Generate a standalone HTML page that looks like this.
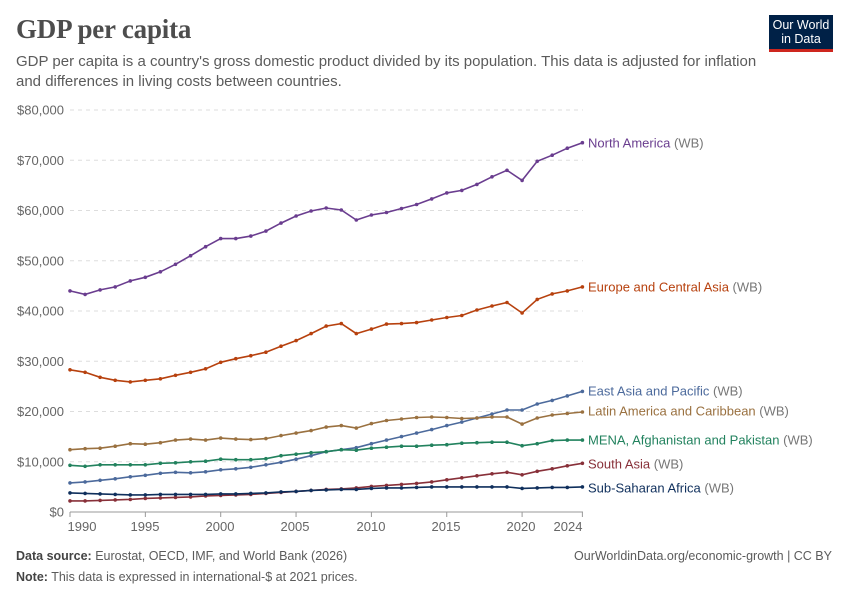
<!DOCTYPE html>
<html><head><meta charset="utf-8"><style>
body{margin:0;width:850px;height:600px;background:#fff;font-family:"Liberation Sans",sans-serif;overflow:hidden;position:relative}
h1{position:absolute;left:16px;top:14px;margin:0;font-family:"Liberation Serif",serif;font-size:27px;font-weight:normal;color:#4d4d4d;letter-spacing:-0.2px}
.sub{position:absolute;left:16px;top:52px;width:760px;font-size:15px;line-height:20px;color:#5b5b5b}
.logo{position:absolute;left:769px;top:15px;width:64px;height:37px;background:#002147;border-bottom:3px solid #ce261e;color:#fff;font-size:12.5px;line-height:14px;text-align:center;padding-top:3px;box-sizing:border-box}
.foot{position:absolute;font-size:12.5px;color:#5b5b5b}
.foot b{color:#444}
</style></head><body>
<h1><b style="font-weight:bold">GDP per capita</b></h1>
<div class="sub">GDP per capita is a country's gross domestic product divided by its population. This data is adjusted for inflation and differences in living costs between countries.</div>
<div class="logo">Our World<br>in Data</div>
<svg id="c" width="850" height="600" style="position:absolute;left:0;top:0"></svg>
<div class="foot" style="left:16px;top:549px"><b>Data source:</b> Eurostat, OECD, IMF, and World Bank (2026)</div>
<div class="foot" style="right:18px;top:549px">OurWorldinData.org/economic-growth | CC BY</div>
<div class="foot" style="left:16px;top:570px"><b>Note:</b> This data is expressed in international-$ at 2021 prices.</div>
<script>
const S=[
["#6a3d8f","North America",143,[44000,43300,44200,44800,46000,46700,47800,49300,51000,52800,54400,54400,54900,55900,57500,58900,59900,60500,60100,58100,59100,59600,60400,61200,62300,63500,64000,65200,66700,68000,66000,69800,71000,72400,73500]],
["#b7410e","Europe and Central Asia",287,[28300,27800,26800,26200,25900,26200,26500,27200,27800,28500,29800,30500,31100,31800,33000,34100,35500,37000,37500,35500,36400,37400,37500,37700,38200,38700,39100,40200,41000,41700,39600,42300,43400,44000,44800]],
["#4c6a9c","East Asia and Pacific",391,[5800,6000,6300,6600,7000,7300,7700,7900,7800,8000,8400,8600,8900,9400,9900,10500,11200,12000,12400,12800,13600,14300,15000,15700,16400,17200,17900,18700,19500,20300,20300,21500,22200,23100,24000]],
["#9a7140","Latin America and Caribbean",411,[12400,12600,12700,13100,13600,13500,13800,14300,14500,14300,14700,14500,14400,14600,15200,15700,16200,16900,17200,16700,17600,18200,18500,18800,18900,18800,18600,18700,18900,18900,17500,18700,19300,19600,19900]],
["#22825e","MENA, Afghanistan and Pakistan",440,[9300,9100,9400,9400,9400,9400,9700,9800,10000,10100,10500,10400,10400,10600,11200,11500,11800,12000,12400,12300,12700,12900,13100,13100,13300,13400,13700,13800,13900,13900,13200,13600,14200,14300,14300]],
["#883039","South Asia",464,[2200,2200,2300,2400,2500,2700,2800,2900,3000,3200,3300,3400,3500,3700,3900,4100,4300,4500,4600,4800,5100,5300,5500,5700,6000,6400,6800,7200,7600,7900,7400,8100,8600,9200,9700]],
["#0f2f5c","Sub-Saharan Africa",488,[3800,3700,3600,3500,3400,3400,3500,3500,3500,3500,3600,3600,3700,3800,4000,4100,4300,4400,4500,4500,4700,4800,4800,4900,5000,5000,5000,5000,5000,5000,4700,4800,4900,4900,5000]]];
const X=y=>70+(y-1990)*15.07, Y=v=>512-v*0.005025;
let h='';
for(let i=0;i<=8;i++){const y=Y(i*10000);
 if(i>0)h+=`<line x1="70" x2="583" y1="${y}" y2="${y}" stroke="#ddd" stroke-dasharray="4,4"/>`;
 h+=`<text x="64" y="${y+4.5}" text-anchor="end" font-size="13" fill="#666">${i?'$'+i*10+',000':'$0'}</text>`;}
h+=`<line x1="70" x2="583" y1="512" y2="512" stroke="#999"/>`;
[[1990,82],[1995,145],[2000,220],[2005,295],[2010,371],[2015,446],[2020,521],[2024,568]].forEach(([t,x])=>{
 h+=`<line x1="${X(t)}" x2="${X(t)}" y1="512" y2="517" stroke="#999"/><text x="${x}" y="531" text-anchor="middle" font-size="13" fill="#666">${t}</text>`;});
for(const [c,n,ly,d] of S){
 const p=d.map((v,i)=>X(1990+i).toFixed(1)+','+Y(v).toFixed(1));
 h+=`<polyline points="${p.join(' ')}" fill="none" stroke="${c}" stroke-width="1.6"/>`;
 p.forEach(q=>{const [a,b]=q.split(',');h+=`<circle cx="${a}" cy="${b}" r="1.8" fill="${c}"/>`;});
 h+=`<text x="588" y="${ly+4.5}" font-size="13" fill="${c}">${n} <tspan fill="#777">(WB)</tspan></text>`;}
document.getElementById('c').innerHTML=h;
</script>
</body></html>
